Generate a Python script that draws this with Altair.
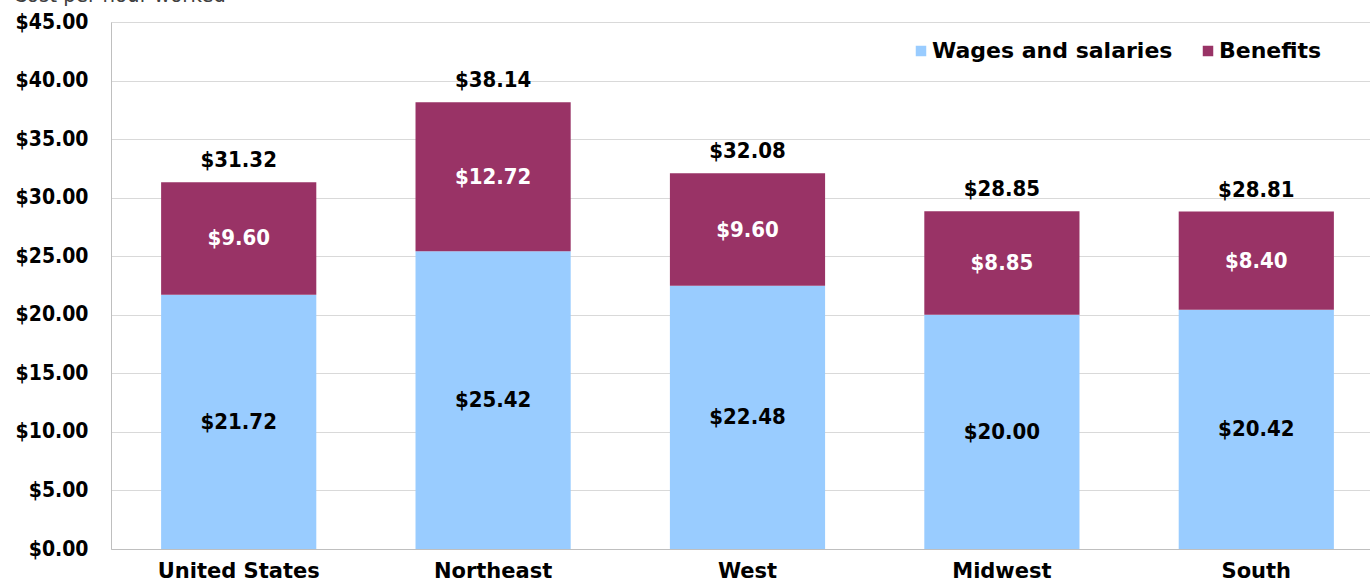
import altair as alt
import pandas as pd

regions = ["United States", "Northeast", "West", "Midwest", "South"]
wages = [21.72, 25.42, 22.48, 20.00, 20.42]
benefits = [9.60, 12.72, 9.60, 8.85, 8.40]
totals = [31.32, 38.14, 32.08, 28.85, 28.81]
series = ["Wages and salaries", "Benefits"]
y_ticks = [0, 5, 10, 15, 20, 25, 30, 35, 40, 45]
unit_title = ["Cost per hour worked"]

rows = []
for r, w, b in zip(regions, wages, benefits):
    rows.append({"region": r, "series": series[0], "start": 0.0, "end": w, "value": w, "order": 0})
    rows.append({"region": r, "series": series[1], "start": w, "end": w + b, "value": b, "order": 1})
df = pd.DataFrame(rows)
df["mid"] = (df["start"] + df["end"]) / 2
df["label"] = df["value"].map(lambda v: f"${v:.2f}")

tot = pd.DataFrame({"region": regions, "total": totals})
tot["label"] = tot["total"].map(lambda v: f"${v:.2f}")

FONT = "DejaVu Sans Condensed"
WIDE = "DejaVu Sans"

xscale = alt.Scale(paddingInner=0.39, paddingOuter=0.197, range=[0, 1273])
x = alt.X("region:N", sort=regions, title=None, scale=xscale,
          axis=alt.Axis(labelAngle=0, labelFont=WIDE, labelFontSize=21, labelFontWeight="bold",
                        labelColor="#000000", ticks=False, domainColor="#BFBFBF", labelPadding=11))

yscale = alt.Scale(domain=[0, 45], nice=False, zero=True)
yaxis = alt.Axis(values=y_ticks, labelExpr="'$' + format(datum.value, '.2f')",
                 labelFont=FONT, labelFontSize=21, labelFontWeight="bold", labelColor="#000000",
                 ticks=False, domainColor="#BFBFBF", gridColor="#D9D9D9", labelPadding=23)

bars = alt.Chart(df).mark_bar().encode(
    x=x,
    y=alt.Y("start:Q", scale=yscale, axis=yaxis, title=None),
    y2="end:Q",
    color=alt.Color("series:N", sort=series,
                    scale=alt.Scale(domain=series, range=["#99CCFF", "#993366"]),
                    legend=alt.Legend(title=None, orient="none", direction="horizontal",
                                      legendX=799, legendY=18, symbolType="square",
                                      symbolSize=110, symbolStrokeWidth=0, labelLimit=400,
                                      labelFont=WIDE, labelFontSize=22, labelFontWeight="bold",
                                      labelColor="#000000", columnPadding=24, labelOffset=0)),
)

seg_labels = alt.Chart(df).mark_text(font=FONT, fontSize=22, fontWeight="bold").encode(
    x=alt.X("region:N", sort=regions, scale=xscale),
    y=alt.Y("mid:Q", scale=yscale),
    text="label:N",
    color=alt.Color("series:N", scale=alt.Scale(domain=series, range=["#000000", "#FFFFFF"]), legend=None),
)

tot_labels = alt.Chart(tot).mark_text(font=FONT, fontSize=22, fontWeight="bold", dy=-22, color="#000000").encode(
    x=alt.X("region:N", sort=regions, scale=xscale),
    y=alt.Y("total:Q", scale=yscale),
    text="label:N",
)

unit_text = alt.Chart(pd.DataFrame({"t": unit_title})).mark_text(
    font=FONT, fontSize=22, align="left", baseline="alphabetic", color="#404040"
).encode(x=alt.value(-98), y=alt.value(-20), text="t:N")

chart = alt.layer(bars, seg_labels, tot_labels, unit_text).resolve_scale(color="independent").properties(
    width=1259, height=527,
    padding={"left": 111, "top": 22, "right": 0, "bottom": 33},
    autosize=alt.AutoSizeParams(type="none"),
).configure_view(stroke="#BFBFBF", strokeWidth=1).configure(background="white")

chart.save("out.html", embed_options={"renderer": "svg", "actions": False})
